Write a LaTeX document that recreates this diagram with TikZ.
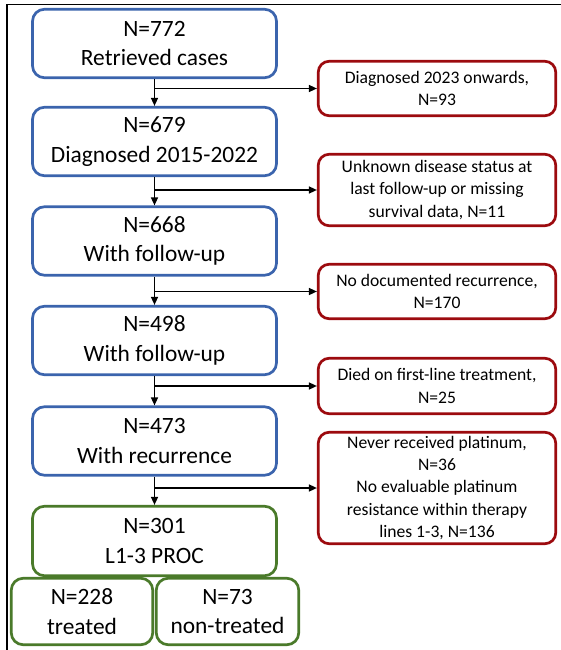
\documentclass[tikz,border=0pt]{standalone}
\usepackage{fontspec}
\setmainfont{Carlito}
\usetikzlibrary{arrows.meta}
\definecolor{bxblue}{HTML}{3B64AD}
\definecolor{bxred}{HTML}{9C0A0E}
\definecolor{bxgreen}{HTML}{4A7A2A}
\begin{document}
\begin{tikzpicture}[x=1pt,y=-1pt,
  bigtext/.style={align=center,inner sep=0pt,font=\fontsize{23.4}{29.5}\selectfont},
  mainbox/.style={bigtext,draw=bxblue,line width=2.7pt,rounded corners=12pt,minimum width=244pt,minimum height=68.5pt,fill=white},
  greenbox/.style={bigtext,draw=bxgreen,line width=2.7pt,rounded corners=12pt,fill=white},
  exclbox/.style={draw=bxred,line width=2.7pt,rounded corners=11pt,align=center,inner sep=0pt,minimum width=237.5pt,fill=white,font=\fontsize{17.6}{22.4}\selectfont},
  flow/.style={line width=1.5pt,-{Triangle[length=8pt,width=7pt]}},
  frame/.style={line width=1.3pt}
]
\useasboundingbox (0,0) rectangle (561,650);
\draw[frame] (7,650) -- (7,4.5) -- (561,4.5);

\node[mainbox] (b1) at (154.5,43.5) {N=772\\Retrieved cases};
\node[mainbox] (b2) at (154.5,141.5) {N=679\\Diagnosed 2015-2022};
\node[mainbox] (b3) at (154.5,241) {N=668\\With follow-up};
\node[mainbox] (b4) at (154.5,340.5) {N=498\\With follow-up};
\node[mainbox] (b5) at (154.5,441) {N=473\\With recurrence};
\node[greenbox,minimum width=244pt,minimum height=69.5pt] (g1) at (154.5,541) {N=301\\L1-3 PROC};
\node[greenbox,minimum width=141.5pt,minimum height=66.5pt] (g2) at (82,611.5) {N=228\\treated};
\node[greenbox,minimum width=142.5pt,minimum height=66.5pt] (g3) at (227.5,611.5) {N=73\\non-treated};

\node[exclbox,minimum height=54.5pt] (r1) at (437,88.5) {Diagnosed 2023 onwards,\\N=93};
\node[exclbox,minimum height=71.5pt] (r2) at (437,190) {Unknown disease status at\\last follow-up or missing\\survival data, N=11};
\node[exclbox,minimum height=54.5pt] (r3) at (437,291.5) {No documented recurrence,\\N=170};
\node[exclbox,minimum height=55.5pt] (r4) at (437,386) {Died on first-line treatment,\\N=25};
\node[exclbox,minimum height=111.5pt] (r5) at (437,488) {Never received platinum,\\N=36\\No evaluable platinum\\resistance within therapy\\lines 1-3, N=136};

\draw[flow] (b1.south) -- (b2.north);
\draw[flow] (b2.south) -- (b3.north);
\draw[flow] (b3.south) -- (b4.north);
\draw[flow] (b4.south) -- (b5.north);
\draw[flow] (b5.south) -- (g1.north);
\draw[flow] (b1.south |- r1.west) -- (r1.west);
\draw[flow] (b2.south |- r2.west) -- (r2.west);
\draw[flow] (b3.south |- r3.west) -- (r3.west);
\draw[flow] (b4.south |- r4.west) -- (r4.west);
\draw[flow] (b5.south |- r5.west) -- (r5.west);
\end{tikzpicture}
\end{document}
